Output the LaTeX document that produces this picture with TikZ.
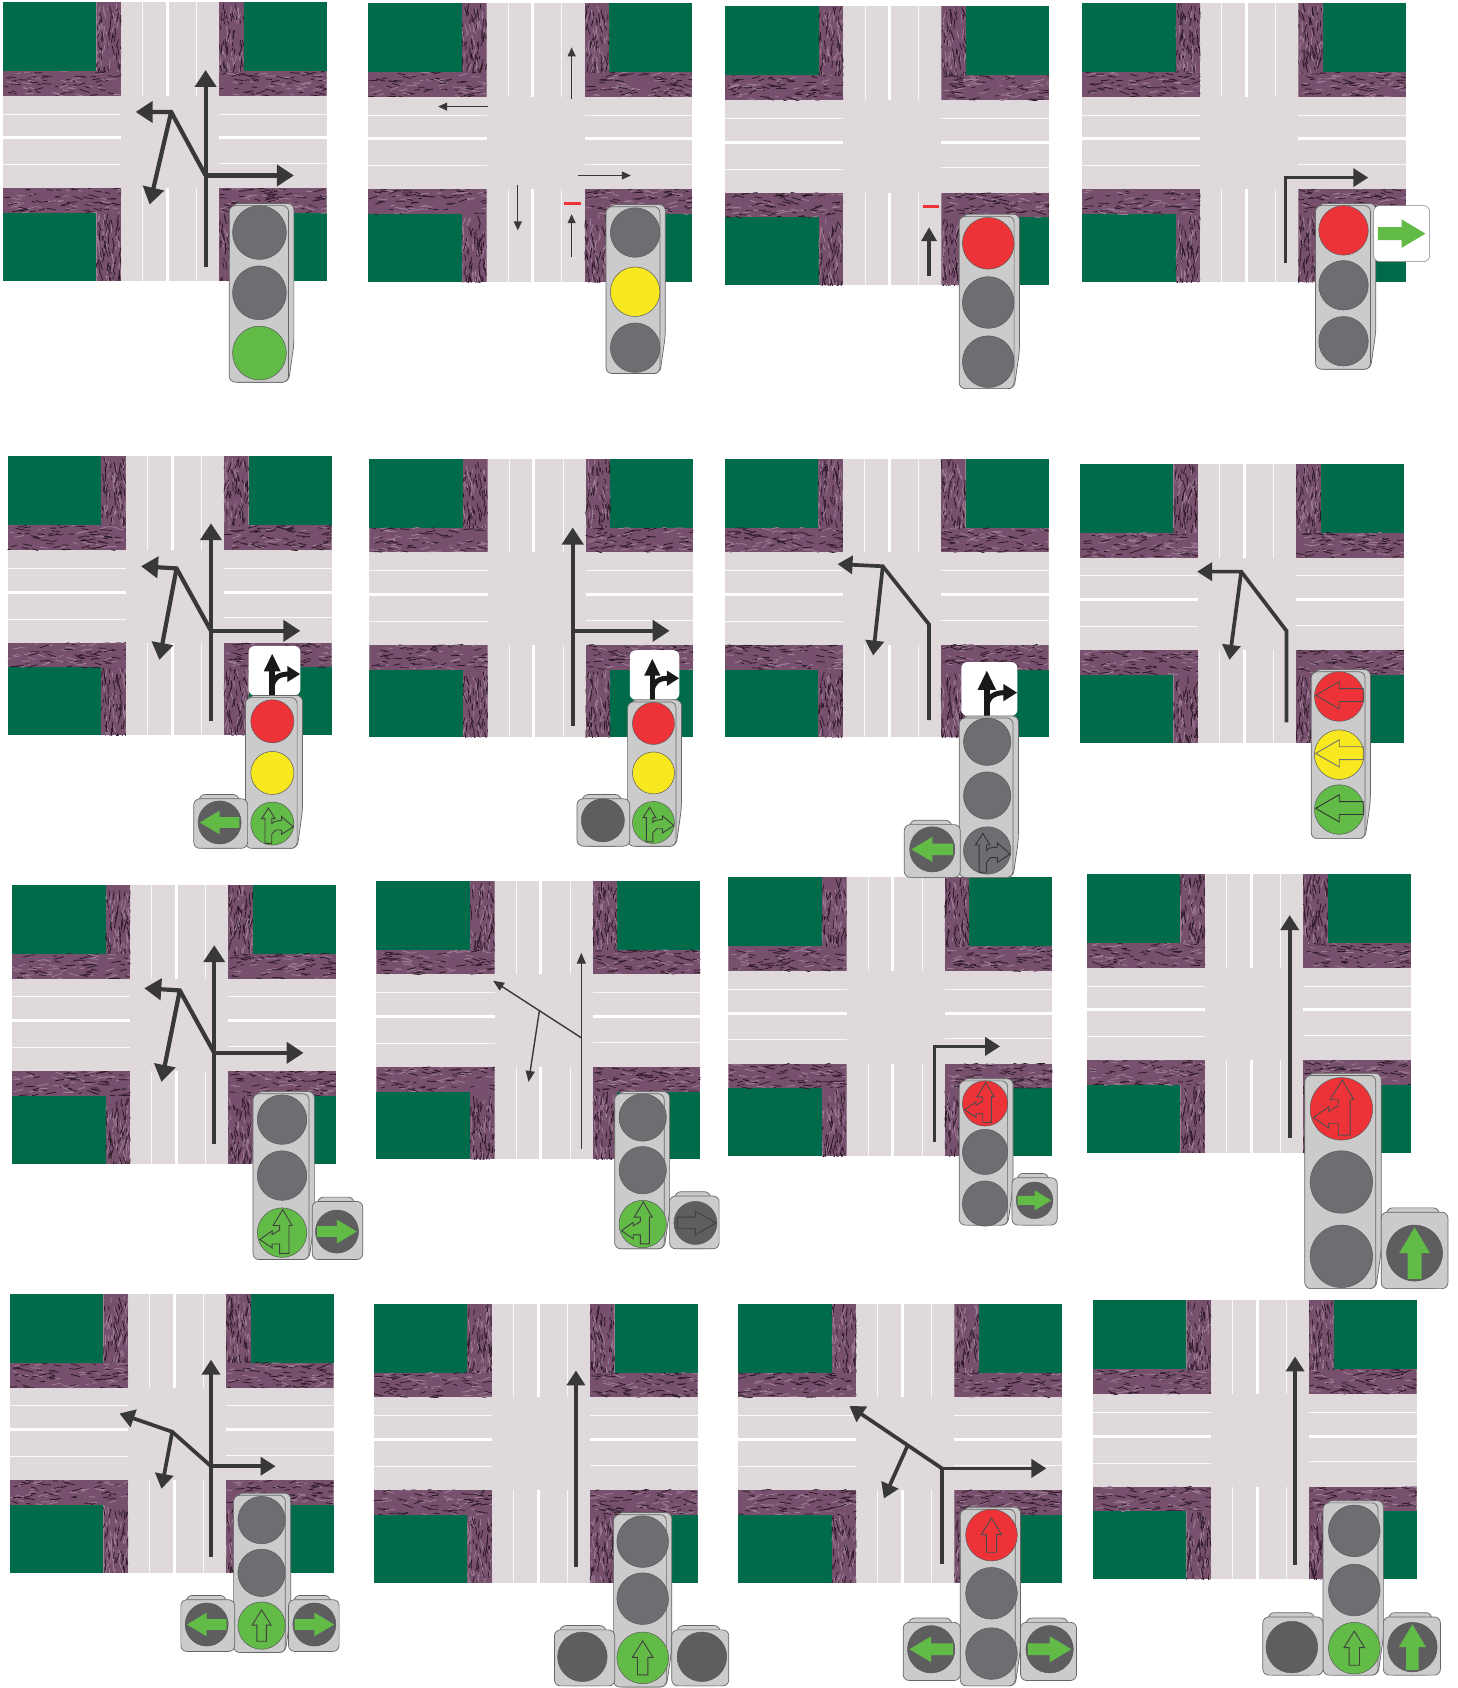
\documentclass[tikz,border=0pt]{standalone}
\usetikzlibrary{arrows.meta}
\definecolor{lawn}{HTML}{006B4A}
\definecolor{road}{HTML}{E0D9DC}
\definecolor{kerb}{HTML}{76506C}
\definecolor{kerbd}{HTML}{2E1A29}
\definecolor{kerbl}{HTML}{9C7C95}
\definecolor{lred}{HTML}{EE3338}
\definecolor{lyel}{HTML}{F8E81F}
\definecolor{lgrn}{HTML}{62BB46}
\definecolor{lgry}{HTML}{6D6E71}
\definecolor{ldrk}{HTML}{5E5E60}
\definecolor{hous}{HTML}{CBCBCB}
\definecolor{arrw}{HTML}{383838}
\tikzset{
  bigarrow/.style={draw=arrw,line width=4.2pt,-{Triangle[length=17pt,width=21pt]}},
  midarrow/.style={draw=arrw,line width=3.7pt,-{Triangle[length=15pt,width=18pt]}},
  thinarrow/.style={draw=arrw,line width=1.3pt,-{Triangle[length=9pt,width=8pt]}},
  marking/.style={draw=white!85!road,line width=1pt},
  markingb/.style={draw=white,line width=3pt},
  iconline/.style={draw=#1,line width=0.9pt,line join=miter},
  lamprim/.style={draw=black!65,line width=0.5pt},
  casing/.style={fill=hous,draw=black!60,line width=0.7pt,rounded corners=6pt},
}
% textured strip: x y w h angle
\newcommand{\kerbstrip}[5]{%
  \begin{scope}
    \clip (#1,#2) rectangle ++(#3,#4);
    \fill[kerb] (#1,#2) rectangle ++(#3,#4);
    \foreach \k in {1,...,85}{%
      \pgfmathsetmacro\px{#1+rnd*#3}%
      \pgfmathsetmacro\py{#2+rnd*#4}%
      \pgfmathsetmacro\ang{#5+(rnd-0.5)*40}%
      \pgfmathsetmacro\len{3+rnd*7}%
      \pgfmathsetmacro\shade{rnd}%
      \ifdim\shade pt<0.6pt
        \draw[kerbd,line width=0.8pt] (\px,\py) -- ++(\ang:\len);
      \else
        \draw[kerbl,line width=0.9pt] (\px,\py) -- ++(\ang:\len);
      \fi
    }
  \end{scope}}
% one crossroads tile at top-left x y (301 x 259)
\newcommand{\tile}[2]{%
  \begin{scope}[shift={(#1,#2)}]
    \fill[road] (0,0) rectangle (301,259);
    \fill[lawn] (0,0) rectangle (87,64);
    \fill[lawn] (224,0) rectangle (301,64);
    \fill[lawn] (0,196) rectangle (87,259);
    \fill[lawn] (224,196) rectangle (301,259);
    \kerbstrip{0}{64}{110}{23}{0}
    \kerbstrip{87}{0}{23}{64}{90}
    \kerbstrip{201}{64}{100}{23}{0}
    \kerbstrip{201}{0}{23}{64}{90}
    \kerbstrip{0}{173}{110}{23}{0}
    \kerbstrip{87}{196}{23}{63}{90}
    \kerbstrip{201}{173}{100}{23}{0}
    \kerbstrip{201}{196}{23}{63}{90}
    \draw[marking] (130,0) -- (130,87) (180,0) -- (180,87) (130,173) -- (130,259) (180,173) -- (180,259);
    \draw[markingb] (153,0) -- (153,87) (153,173) -- (153,259);
    \draw[marking] (0,104) -- (110,104) (0,151) -- (110,151) (201,104) -- (301,104) (201,150) -- (301,150);
    \draw[markingb] (0,126) -- (110,126) (201,126) -- (301,126);
  \end{scope}}
% main housing x1 y1 x2 y2
\newcommand{\housing}[4]{%
  \pgfmathsetmacro\xa{#1+3}\pgfmathsetmacro\xb{#3-5}\pgfmathsetmacro\yb{#4-35}\pgfmathsetmacro\yc{#2+2}%
  \draw[casing] (\xa,#2) -- (#3,#2) -- (#3,\yb) -- (\xb,#4) -- (\xa,#4) -- cycle;
  \draw[casing] (#1,\yc) rectangle (\xb,#4);}
\newcommand{\sidecase}[4]{%
  \pgfmathsetmacro\xa{#1+5}\pgfmathsetmacro\xb{#3-8}\pgfmathsetmacro\ya{#2+4}%
  \draw[casing] (\xa,#2) rectangle (\xb,#4);
  \draw[casing] (#1,\ya) rectangle (#3,#4);}
\newcommand{\lampc}[4]{\filldraw[lamprim,fill=#4] (#1,#2) circle (#3);}
% outline icons: centre x y r colour. y of the drawing grows downward
\newcommand{\iconU}[4]{\begin{scope}[shift={(#1,#2)},x=#3*1.0768pt,y=-#3*1.0768pt]
  \draw[iconline=#4] (0,-.66)--(.4,-.02)--(.2,-.02)--(.2,.66)--(-.2,.66)--(-.2,-.02)--(-.4,-.02)--cycle;\end{scope}}
\newcommand{\iconUL}[4]{\begin{scope}[shift={(#1,#2)},x=#3*1.0768pt,y=-#3*1.0768pt]
  \draw[iconline=#4] (.03,-.93)--(.4,-.29)--(.28,-.29)--(.28,.84)--(-.1,.84)--(-.1,.46)--(-.4,.46)--(-.4,.62)--(-.9,.28)--(-.4,-.07)--(-.4,.08)--(-.1,-.1)--(-.1,-.29)--(-.36,-.29)--cycle;\end{scope}}
\newcommand{\iconUR}[4]{\begin{scope}[shift={(#1,#2)},x=#3*1.0768pt,y=-#3*1.0768pt]
  \draw[iconline=#4] (-.18,-.72)--(.12,-.23)--(-.03,-.23)--(-.03,.0)--(.1,-.1)--(.43,-.15)--(.43,-.32)--(.97,.15)--(.43,.5)--(.43,.3)--(.15,.3)--(-.03,.5)--(-.03,.92)--(-.34,.92)--(-.34,-.23)--(-.5,-.23)--cycle;\end{scope}}
\newcommand{\iconL}[4]{\begin{scope}[shift={(#1,#2)},x=#3*1.0768pt,y=-#3*1.0768pt]
  \draw[iconline=#4] (-.95,-.05)--(0,-.6)--(0,-.32)--(.97,-.32)--(.97,.2)--(0,.2)--(0,.5)--cycle;\end{scope}}
\newcommand{\iconR}[4]{\begin{scope}[shift={(#1,#2)},x=#3*1.0768pt,y=-#3*1.0768pt]
  \draw[iconline=#4] (.95,0)--(0,-.55)--(0,-.27)--(-.85,-.27)--(-.85,.27)--(0,.27)--(0,.55)--cycle;\end{scope}}
% filled green arrows
\newcommand{\solidarrow}[4]{\begin{scope}[shift={(#1,#2)},x=#3*1.0768pt,y=-#3*1.0768pt,rotate=#4]
  \fill[lgrn] (.92,0)--(0,-.55)--(0,-.25)--(-.92,-.25)--(-.92,.25)--(0,.25)--(0,.55)--cycle;\end{scope}}
% white panel x1 y1 x2 y2 with black turn-right sign
\newcommand{\panel}[4]{%
  \fill[white,rounded corners=6pt] (#1,#2) rectangle (#3,#4);}
\newcommand{\signblack}[3]{\begin{scope}[shift={(#1,#2)},x=#3*1.0768pt,y=-#3*1.0768pt]
  \draw[black!90,line width=5.5pt] (-.09,1) -- (-.09,0);
  \fill[black!90] (-.09,-.65)--(.24,.03)--(-.42,.03)--cycle;
  \draw[black!90,line width=5pt] (-.09,.62) .. controls (-.05,.3) and (.15,.13) .. (.55,.13);
  \fill[black!90] (.99,.13)--(.5,-.18)--(.5,.44)--cycle;\end{scope}}
\begin{document}
\begin{tikzpicture}[x=1.0768pt,y=-1.0768pt]
\useasboundingbox (0,0) rectangle (1354,1568);
\pgfmathsetseed{4242}
\fill[white] (0,0) rectangle (1354,1568);
\tile{2.5}{2}\tile{342}{3}\tile{673.5}{6}\tile{1005}{3}
\tile{7}{424}\tile{343}{426}\tile{673}{426}\tile{1003}{431}
\tile{11}{822}\tile{349.5}{818}\tile{676.5}{815}\tile{1009.5}{812}
\tile{9}{1202}\tile{347}{1211}\tile{685.5}{1211}\tile{1015}{1208}
%% arrows
% 1
\draw[bigarrow] (191,248) -- (191,65);
\draw[bigarrow] (191,163) -- (273,163);
\draw[bigarrow] (191,163) -- (159,104) -- (126,104);
\draw[bigarrow] (159,104) -- (139,190);
% 2
\draw[thinarrow] (531,92) -- (531,44);
\draw[thinarrow] (453,99) -- (407,99);
\draw[thinarrow] (537,163) -- (586,163);
\draw[thinarrow] (481,172) -- (481,214);
\draw[thinarrow] (531,239) -- (531,199);
\draw[lred,line width=3pt] (524,189) -- (540,189);
% 3
\draw[draw=arrw,line width=3.8pt,-{Triangle[length=14pt,width=15pt]}] (863,256) -- (863,211);
\draw[lred,line width=2.5pt] (857,192) -- (872,192);
% 4
\draw[midarrow] (1194,244) -- (1194,165) -- (1271,165);
% 5
\draw[bigarrow] (196,670) -- (196,486);
\draw[bigarrow] (196,586) -- (279,586);
\draw[bigarrow] (196,586) -- (164,528) -- (131,526);
\draw[bigarrow] (164,528) -- (148,613);
% 6
\draw[bigarrow] (532,674) -- (532,490);
\draw[bigarrow] (532,586) -- (622,586);
% 7
\draw[midarrow] (863,669) -- (863,580) -- (820,526) -- (778,524);
\draw[midarrow] (820,526) -- (811,609);
% 8
\draw[midarrow] (1195,671) -- (1195,586) -- (1153,531) -- (1112,531);
\draw[midarrow] (1153,531) -- (1142,613);
% 9
\draw[bigarrow] (199,1063) -- (199,878);
\draw[bigarrow] (199,978) -- (282,978);
\draw[bigarrow] (199,978) -- (167,920) -- (134,918);
\draw[bigarrow] (167,920) -- (150,1005);
% 10
\draw[draw=arrw,line width=1.4pt,-{Triangle[length=11pt,width=9pt]}] (540,1067) -- (540,885);
\draw[draw=arrw,line width=1.4pt,-{Triangle[length=11pt,width=9pt]}] (540,964) -- (458,911);
\draw[draw=arrw,line width=1.4pt,-{Triangle[length=11pt,width=9pt]}] (501,939) -- (491,1005);
% 11
\draw[midarrow] (868,1061) -- (868,972) -- (929,972);
% 12
\draw[midarrow] (1198,1057) -- (1198,850);
% 13
\draw[midarrow] (196,1446) -- (196,1263);
\draw[midarrow] (196,1362) -- (256,1362);
\draw[midarrow] (196,1362) -- (160,1330) -- (111,1313);
\draw[midarrow] (160,1330) -- (150,1383);
% 14
\draw[midarrow] (535,1456) -- (535,1273);
% 15
\draw[midarrow] (875,1453) -- (875,1364) -- (972,1364);
\draw[midarrow] (875,1364) -- (789,1306);
\draw[midarrow] (843,1343) -- (821,1392);
% 16
\draw[midarrow] (1203,1454) -- (1203,1260);
%% signals
% 1
\housing{213}{189}{273}{355}
\lampc{241}{216}{25}{lgry}\lampc{241}{272}{25}{lgry}\lampc{241}{328}{25}{lgrn}
% 2
\housing{563}{190}{618}{347}
\lampc{590}{216}{23}{lgry}\lampc{590}{271}{23}{lyel}\lampc{590}{323}{23}{lgry}
% 3
\housing{891}{199}{947}{361}
\lampc{918}{226}{24}{lred}\lampc{918}{281}{24}{lgry}\lampc{918}{336}{24}{lgry}
% 4
\housing{1222}{189}{1278}{343}
\lampc{1248}{214}{23}{lred}\lampc{1248}{265}{23}{lgry}\lampc{1248}{317}{23}{lgry}
\filldraw[fill=white,draw=black!50,line width=0.5pt,rounded corners=6pt] (1276,191) rectangle (1328,243);
\solidarrow{1302}{217}{24}{0}
% 5
\panel{231}{600}{279}{646}\signblack{255}{623}{24}
\housing{228}{646}{281}{788}
\lampc{253}{670}{20}{lred}\lampc{253}{718}{20}{lyel}\lampc{253}{765}{20}{lgrn}
\iconUR{253}{765}{20}{black!75}
\sidecase{180}{738}{230}{788}
\lampc{204}{764}{20}{ldrk}\solidarrow{204}{764}{20}{180}
% 6
\panel{585}{604}{631}{650}\signblack{608}{627}{23}
\housing{583}{650}{633}{786}
\lampc{607}{672}{19.5}{lred}\lampc{607}{718}{19.5}{lyel}\lampc{607}{764}{19.5}{lgrn}
\iconUR{607}{764}{19.5}{black!75}
\sidecase{536}{738}{585}{786}
\lampc{560}{762}{20}{ldrk}
% 7
\panel{893}{615}{945}{665}\signblack{919}{640}{26}
\housing{891}{665}{946}{815}
\lampc{917}{689}{22}{lgry}\lampc{917}{739}{22}{lgry}\lampc{917}{790}{22}{lgry}
\iconUR{917}{790}{22}{black!80}
\sidecase{840}{762}{892}{815}
\lampc{866}{789}{21}{ldrk}\solidarrow{866}{789}{21}{180}
% 8
\housing{1218}{622}{1273}{779}
\lampc{1244}{647}{23}{lred}\lampc{1244}{701}{23}{lyel}\lampc{1244}{752}{23}{lgrn}
\iconL{1244}{647}{23}{black!70}\iconL{1244}{701}{23}{black!55}\iconL{1244}{752}{23}{black!80}
% 9
\housing{235}{1014}{292}{1170}
\lampc{262}{1040}{23}{lgry}\lampc{262}{1092}{23}{lgry}\lampc{262}{1145}{23}{lgrn}
\iconUL{262}{1145}{23}{black!75}
\sidecase{290}{1112}{337}{1170}
\lampc{313}{1144}{20}{ldrk}\solidarrow{313}{1144}{20}{0}
% 10
\housing{571}{1014}{622}{1160}
\lampc{597}{1038}{22}{lgry}\lampc{597}{1087}{22}{lgry}\lampc{597}{1137}{22}{lgrn}
\iconUL{597}{1137}{22}{black!75}
\sidecase{622}{1107}{668}{1160}
\lampc{646}{1136}{20}{ldrk}\iconR{646}{1136}{20}{black!75}
% 11
\housing{891}{1002}{941}{1138}
\lampc{915}{1025}{21}{lred}\lampc{915}{1070}{21}{lgry}\lampc{915}{1118}{21}{lgry}
\iconUL{915}{1025}{21}{black!70}
\sidecase{940}{1090}{982}{1138}
\lampc{961}{1115}{17}{ldrk}\solidarrow{961}{1115}{17}{0}
% 12
\housing{1212}{997}{1283}{1197}
\lampc{1246}{1030}{29}{lred}\lampc{1246}{1098}{29}{lgry}\lampc{1246}{1167}{29}{lgry}
\iconUL{1246}{1030}{29}{black!70}
\sidecase{1283}{1122}{1345}{1197}
\lampc{1314}{1164}{26}{ldrk}\solidarrow{1314}{1164}{26}{90}
% 13
\housing{217}{1387}{270}{1535}
\lampc{243}{1412}{22}{lgry}\lampc{243}{1461}{22}{lgry}\lampc{243}{1510}{22}{lgrn}
\iconU{243}{1510}{22}{black!75}
\sidecase{168}{1482}{218}{1534}
\lampc{192}{1509}{20}{ldrk}\solidarrow{192}{1509}{20}{180}
\sidecase{268}{1482}{315}{1534}
\lampc{292}{1509}{20}{ldrk}\solidarrow{292}{1509}{20}{0}
% 14
\housing{570}{1405}{624}{1567}
\lampc{597}{1432}{24}{lgry}\lampc{597}{1485}{24}{lgry}\lampc{597}{1540}{24}{lgrn}
\iconU{597}{1540}{24}{black!75}
\sidecase{515}{1510}{571}{1566}
\lampc{541}{1539}{23}{ldrk}
\sidecase{624}{1510}{677}{1566}
\lampc{652}{1539}{23}{ldrk}
% 15
\housing{892}{1400}{948}{1566}
\lampc{921}{1426}{24}{lred}\lampc{921}{1480}{24}{lgry}\lampc{921}{1536}{24}{lgry}
\iconU{921}{1426}{24}{black!70}
\sidecase{839}{1503}{892}{1561}
\lampc{865}{1532}{22}{ldrk}\solidarrow{865}{1532}{22}{180}
\sidecase{948}{1503}{1000}{1561}
\lampc{975}{1532}{22}{ldrk}\solidarrow{975}{1532}{22}{0}
% 16
\housing{1229}{1394}{1285}{1556}
\lampc{1258}{1422}{24}{lgry}\lampc{1258}{1477}{24}{lgry}\lampc{1258}{1531}{24}{lgrn}
\iconU{1258}{1531}{24}{black!75}
\sidecase{1173}{1498}{1229}{1556}
\lampc{1200}{1530}{24}{ldrk}
\sidecase{1285}{1498}{1338}{1556}
\lampc{1312}{1530}{23}{ldrk}\solidarrow{1312}{1530}{23}{90}
\end{tikzpicture}
\end{document}
